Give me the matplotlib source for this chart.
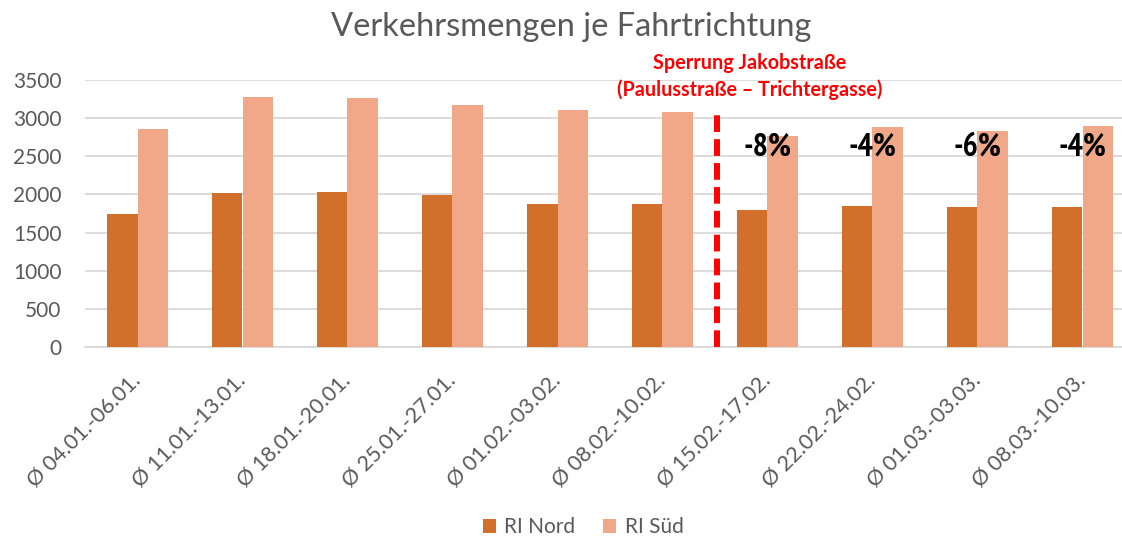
import matplotlib
matplotlib.use("Agg")
import matplotlib.pyplot as plt
from matplotlib import font_manager
from matplotlib.font_manager import FontProperties
import numpy as np

categories = ["Ø 04.01.-06.01.", "Ø 11.01.-13.01.", "Ø 18.01.-20.01.", "Ø 25.01.-27.01.",
              "Ø 01.02.-03.02.", "Ø 08.02.-10.02.", "Ø 15.02.-17.02.", "Ø 22.02.-24.02.",
              "Ø 01.03.-03.03.", "Ø 08.03.-10.03."]
ri_nord = [1741, 2024, 2029, 1995, 1875, 1880, 1795, 1850, 1830, 1835]
ri_sued = [2862, 3277, 3264, 3175, 3110, 3076, 2766, 2884, 2827, 2897]
pct_labels = ["", "", "", "", "", "", "-8%", "-4%", "-6%", "-4%"]
yticks = [0, 500, 1000, 1500, 2000, 2500, 3000, 3500]

font = ["Lato", "DejaVu Sans"]
plt.rcParams["font.family"] = font
grey = "#595959"

# pick a narrow bold font file for the percentage labels if available
pct_font = None
cands = []
for f in font_manager.fontManager.ttflist:
    fn = f.fname.lower()
    if ("narrow" in fn or "condensed" in fn) and "bold" in fn and "oblique" not in fn \
            and "italic" not in fn:
        score = 0 if "narrow" in fn else (1 if "dejavu" in fn else 2)
        cands.append((score, f.fname))
cands.sort()
if cands:
    pct_font = FontProperties(fname=cands[0][1], size=23)
else:
    pct_font = FontProperties(family="DejaVu Sans", weight="bold", size=19)

fig = plt.figure(figsize=(11.22, 5.4), dpi=100)
ax = fig.add_axes([85/1122, 193/540, 1050/1122, 267/540])

x = np.arange(len(categories))
w = 0.286
ax.bar(x - w/2, ri_nord, w, color="#D26F2B", label="RI Nord", zorder=3)
ax.bar(x + w/2, ri_sued, w, color="#F0A889", label="RI Süd", zorder=3)

ax.set_xlim(-0.5, len(categories) - 0.5)
ax.set_ylim(0, 3500)
ax.set_yticks(yticks)
ax.set_yticklabels([str(v) for v in yticks], fontsize=15, color=grey)
ax.yaxis.grid(True, color="#D9D9D9", linewidth=1.3, zorder=0)
for s in ["top", "right", "left"]:
    ax.spines[s].set_visible(False)
ax.spines["bottom"].set_color("#D9D9D9")
ax.spines["bottom"].set_linewidth(1.3)
ax.tick_params(axis="both", length=0)
ax.tick_params(axis="y", pad=17)
ax.set_xticks(x)
ax.set_xticklabels(categories, rotation=45, ha="right", va="center",
                   rotation_mode="anchor", fontsize=15.5, color=grey)
ax.tick_params(axis="x", pad=22)

# closure line
ax.plot([5.52, 5.52], [0, 3110], color="#FF0000", linewidth=4.3,
        dashes=(2.8, 1.2), dash_capstyle="butt", zorder=4, clip_on=False)
ax.text(5.83, 3720, "Sperrung Jakobstraße", color="#FF0000", fontsize=14.2,
        fontweight="bold", ha="center", va="center")
ax.text(5.83, 3377, "(Paulusstraße – Trichtergasse)", color="#FF0000", fontsize=14.2,
        fontweight="bold", ha="center", va="center")

for i, lab in enumerate(pct_labels):
    if lab:
        ax.text(x[i], 2620, lab, ha="center", va="center",
                color="black", fontproperties=pct_font)

fig.text(571/1122, 1 - 27/540, "Verkehrsmengen je Fahrtrichtung", fontsize=23.5,
         color=grey, ha="center", va="center")

leg = fig.legend(loc="center", bbox_to_anchor=(583/1122, 1 - 527/540), ncol=2, frameon=False,
                 fontsize=15, handlelength=0.65, handleheight=0.65, columnspacing=1.3,
                 handletextpad=0.4)
for t in leg.get_texts():
    t.set_color(grey)

fig.savefig("out.png", dpi=100)
